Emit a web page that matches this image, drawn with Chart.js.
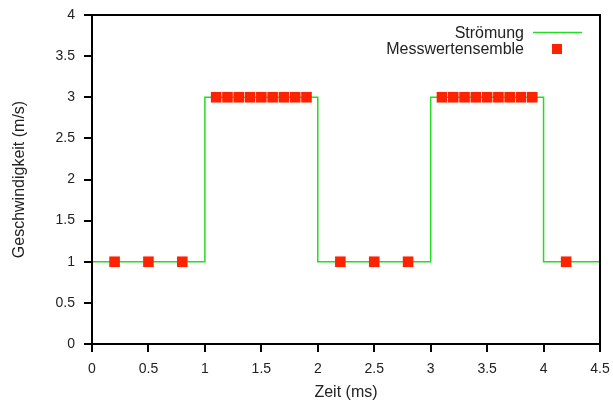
<!DOCTYPE html>
<html>
<head>
<meta charset="utf-8">
<title>Strömung</title>
<script src="https://cdn.jsdelivr.net/npm/chart.js@4"></script>
<style>
  body { margin: 0; background: #fff; }
  #wrap { width: 613px; height: 401px; }
</style>
</head>
<body>
<div id="wrap"><canvas id="chart"></canvas></div>
<script>
// step profile (value holds from this time until the next one)
const flowTimes = [0, 1, 2, 3, 4, 4.5];
const flowValues = [1, 3, 1, 3, 1, 1];

// measurement ensemble
const sampleTimes = [0.2, 0.5, 0.8,
  1.1, 1.2, 1.3, 1.4, 1.5, 1.6, 1.7, 1.8, 1.9,
  2.2, 2.5, 2.8,
  3.1, 3.2, 3.3, 3.4, 3.5, 3.6, 3.7, 3.8, 3.9,
  4.2];
const sampleValues = [1, 1, 1,
  3, 3, 3, 3, 3, 3, 3, 3, 3,
  1, 1, 1,
  3, 3, 3, 3, 3, 3, 3, 3, 3,
  1];

const seriesNames = ['Strömung', 'Messwertensemble'];
const xTitle = 'Zeit (ms)';
const yTitle = 'Geschwindigkeit (m/s)';

const GREEN = '#22dd22';
const RED = '#ff2200';
const FONT = 'Liberation Sans, Arial, sans-serif';
const TEXT = '#222';

// box around plot + legend in the top right corner (gnuplot style)
const framePlugin = {
  id: 'frame',
  afterDatasetsDraw(chart) {
    const { ctx, chartArea: a } = chart;
    ctx.save();
    ctx.strokeStyle = '#000';
    ctx.lineWidth = 2;
    ctx.strokeRect(a.left, a.top, a.right - a.left, a.bottom - a.top);

    ctx.font = '16px ' + FONT;
    ctx.fillStyle = TEXT;
    ctx.textAlign = 'right';
    ctx.textBaseline = 'middle';
    const textRight = a.right - 76;
    ctx.fillText(seriesNames[0], textRight, 34);
    ctx.fillText(seriesNames[1], textRight, 50);

    ctx.strokeStyle = GREEN;
    ctx.lineWidth = 1.5;
    ctx.beginPath();
    ctx.moveTo(a.right - 67, 32.5);
    ctx.lineTo(a.right - 18, 32.5);
    ctx.stroke();

    ctx.fillStyle = RED;
    ctx.fillRect(a.right - 48, 44, 10, 10);
    ctx.restore();
  }
};

const flowData = flowTimes.map((t, i) => ({ x: t, y: flowValues[i] }));
const sampleData = sampleTimes.map((t, i) => ({ x: t, y: sampleValues[i] }));

const tickFont = { family: FONT, size: 14 };
const titleFont = { family: FONT, size: 16 };
const plainNumber = v => String(Number(v.toFixed(2)));

new Chart(document.getElementById('chart'), {
  type: 'scatter',
  data: {
    datasets: [
      {
        label: seriesNames[0],
        data: flowData,
        showLine: true,
        stepped: 'before',
        borderColor: GREEN,
        borderWidth: 1.5,
        pointRadius: 0,
        order: 2
      },
      {
        label: seriesNames[1],
        data: sampleData,
        showLine: false,
        pointStyle: 'rect',
        pointRadius: 7.5,
        pointHoverRadius: 7.5,
        backgroundColor: RED,
        borderColor: RED,
        borderWidth: 0,
        order: 1
      }
    ]
  },
  options: {
    responsive: true,
    maintainAspectRatio: false,
    animation: false,
    layout: { padding: { top: 15, right: 13, left: 0, bottom: 0 } },
    plugins: {
      legend: { display: false },
      tooltip: { enabled: false }
    },
    scales: {
      x: {
        type: 'linear',
        min: 0,
        max: 4.5,
        afterFit(scale) {
          scale.height = 57;
          scale.paddingLeft = 0;
          scale.paddingRight = 0;
        },
        ticks: { stepSize: 0.5, color: TEXT, font: tickFont, padding: 9, maxRotation: 0, callback: plainNumber },
        grid: { drawOnChartArea: false, drawTicks: true, tickLength: 8, color: '#000', lineWidth: 2 },
        border: { display: true, color: '#000', width: 2 },
        title: { display: true, text: xTitle, color: TEXT, font: titleFont, padding: { top: 0, bottom: -1 } }
      },
      y: {
        type: 'linear',
        min: 0,
        max: 4,
        afterFit(scale) {
          scale.width = 92;
          scale.paddingTop = 0;
          scale.paddingBottom = 0;
        },
        ticks: { stepSize: 0.5, color: TEXT, font: tickFont, padding: 9, callback: plainNumber },
        grid: { drawOnChartArea: false, drawTicks: true, tickLength: 8, color: '#000', lineWidth: 2 },
        border: { display: true, color: '#000', width: 2 },
        title: { display: true, text: yTitle, color: TEXT, font: titleFont, padding: { top: 10, bottom: 0 } }
      }
    }
  },
  plugins: [framePlugin]
});
</script>
</body>
</html>
